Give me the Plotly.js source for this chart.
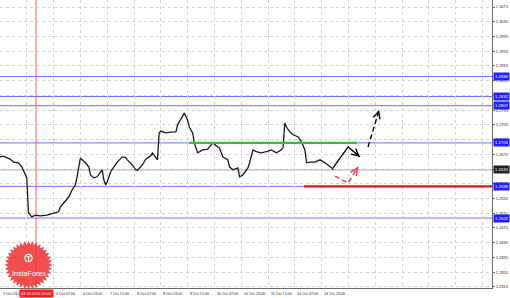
<!DOCTYPE html>
<html><head><meta charset="utf-8">
<script src="https://cdn.plot.ly/plotly-3.0.1.min.js"></script>
<style>html,body{margin:0;padding:0;background:#fff}#chart{width:510px;height:298px}</style>
</head><body><div id="chart"></div>
<script>
// ---- data (bar index = hourly bar counted from "2 Oct 23:00") ----
const bars   = [0,2,4,6,8,11,13,15,16,17,19,21,24,28,32,35,36,38,41,43,45,46,48,49,51,53,54,56,58,60,61,62,63,64,66,68,70,73,75,76,79,81,82,85,87,90,91,94,95,96,99,102,105,106,109,110,112,113,115,116,118,121,124,127,130,131,133,136,137,139,142,143,145,148,149,151,153,156,159,162,165,168,169,170,171,173,175,178,180,182,183,185,188,191,194,196,198,199];
const closes = [1.2668,1.2670,1.2666,1.2662,1.2654,1.2652,1.2641,1.2619,1.2611,1.2516,1.2505,1.2510,1.2508,1.2510,1.2516,1.2519,1.2532,1.2543,1.2559,1.2578,1.2592,1.2614,1.2665,1.2660,1.2652,1.2641,1.2619,1.2611,1.2614,1.2627,1.2633,1.2605,1.2592,1.2600,1.2627,1.2641,1.2654,1.2668,1.2666,1.2660,1.2646,1.2633,1.2631,1.2646,1.2662,1.2671,1.2679,1.2660,1.2733,1.2738,1.2733,1.2735,1.2736,1.2755,1.2782,1.2787,1.2768,1.2749,1.2733,1.2706,1.2679,1.2687,1.2689,1.2706,1.2695,1.2692,1.2668,1.2660,1.2641,1.2633,1.2638,1.2614,1.2619,1.2638,1.2652,1.2687,1.2682,1.2679,1.2682,1.2687,1.2679,1.2687,1.2695,1.2760,1.2749,1.2736,1.2728,1.2722,1.2709,1.2687,1.2652,1.2654,1.2654,1.2660,1.2652,1.2646,1.2638,1.2633];

// visible time labels (the one at bar 16 is hidden by the red cursor box in the reference)
const timeLabels = ['2 Oct 23:00','4 Oct 07:00','4 Oct 23:00','7 Oct 15:00','8 Oct 07:00','8 Oct 23:00','9 Oct 15:00','10 Oct 07:00','10 Oct 23:00','11 Oct 15:00','14 Oct 07:00','14 Oct 23:00'];
const labelBars  = [0,32,48,64,80,96,112,128,144,160,176,192];
const gridBars   = [0,16,32,48,64,80,96,112,128,144,160,176,192,208,224,240,256,272,288];

const priceTicks = [1.2315,1.2355,1.2395,1.2435,1.2475,1.2515,1.2555,1.2595,1.2635,1.2675,1.2715,1.2755,1.2795,1.2835,1.2875,1.2915,1.2955,1.2995,1.3035,1.3075];

const levelPrices = [1.2886,1.2832,1.2807,1.2706,1.2588,1.2502];
const bidPrice = 1.2633;

const greenX = [113,213];  const greenY = [1.2706,1.2706];
const redLineX = [181.5,293.7]; const redLineY = [1.2588,1.2588];
const cursorBar = 21.5; const cursorText = '03.10.2013 20:00';

const solidArrowX = [198.8,207.8,214.9]; const solidArrowY = [1.2638,1.2695,1.2668];
const dashArrowX  = [219.7,226.3];       const dashArrowY  = [1.2695,1.2795];
const redArrowX   = [200.0,207.8,213.7]; const redArrowY   = [1.2616,1.2597,1.2641];

// ---- layout geometry ----
const W=510,H=298,ML=0,MR=18,MT=0,MB=10;
const PW=W-ML-MR, PH=H-MT-MB;
const xr=[0,293.7], yr=[1.2312,1.3094];
const pxPerX = PW/(xr[1]-xr[0]), pxPerY = PH/(yr[1]-yr[0]);
const FONT='Liberation Sans, Arial, sans-serif';

const traces = [
  {x:bars,y:closes,type:'scatter',mode:'lines',line:{color:'#1a1a1a',width:1.3},hoverinfo:'skip'},
  {x:greenX,y:greenY,type:'scatter',mode:'lines',line:{color:'#3dba3d',width:2.2},hoverinfo:'skip'},
  {x:redLineX,y:redLineY,type:'scatter',mode:'lines',line:{color:'#e8141e',width:2.2},hoverinfo:'skip'},
  {x:solidArrowX,y:solidArrowY,type:'scatter',mode:'lines',line:{color:'#000',width:1.4},hoverinfo:'skip'},
  {x:dashArrowX,y:dashArrowY,type:'scatter',mode:'lines',line:{color:'#000',width:1.4,dash:'5px,3px'},hoverinfo:'skip'},
  {x:redArrowX,y:redArrowY,type:'scatter',mode:'lines',line:{color:'#f03c3c',width:1.4,dash:'5px,3px'},hoverinfo:'skip'}
];

const shapes = [];
levelPrices.forEach(p=>shapes.push({type:'line',xref:'paper',yref:'y',x0:0,x1:1,y0:p,y1:p,line:{color:'#6e6eff',width:1},layer:'below'}));
shapes.push({type:'line',xref:'paper',yref:'y',x0:0,x1:1,y0:bidPrice,y1:bidPrice,line:{color:'#bcbccc',width:1.6},layer:'below'});
shapes.push({type:'line',xref:'x',yref:'paper',x0:cursorBar,x1:cursorBar,y0:0,y1:1,line:{color:'#ff5a5a',width:1},layer:'below'});

// InstaForex badge (starburst)
let star='';
const nP=36;
for(let i=0;i<nP*2;i++){
  const r = i%2===0?24:20.5, a = Math.PI*i/nP;
  star += (i===0?'M':'L') + (r*Math.cos(a)).toFixed(2)+','+(r*Math.sin(a)).toFixed(2);
}
star+='Z';
const cx=28.5, cy=265;
shapes.push({type:'path',xref:'paper',yref:'paper',xsizemode:'pixel',ysizemode:'pixel',
  xanchor:cx/PW,yanchor:(PH-cy)/PH,path:star,fillcolor:'rgba(238,40,40,0.82)',line:{width:0},layer:'above'});
let circ='';
for(let i=0;i<=24;i++){const a=2*Math.PI*i/24; circ+=(i===0?'M':'L')+(3.6*Math.cos(a)).toFixed(2)+','+(3.6*Math.sin(a)).toFixed(2);}
shapes.push({type:'path',xref:'paper',yref:'paper',xsizemode:'pixel',ysizemode:'pixel',
  xanchor:cx/PW,yanchor:(PH-258)/PH,path:circ+'Z',fillcolor:'rgba(0,0,0,0)',line:{color:'#fff',width:1.2},layer:'above'});
shapes.push({type:'path',xref:'paper',yref:'paper',xsizemode:'pixel',ysizemode:'pixel',
  xanchor:cx/PW,yanchor:(PH-258)/PH,path:'M0,-3.5L0,2M-2,2L0,0L2,2',fillcolor:'rgba(0,0,0,0)',line:{color:'#fff',width:1},layer:'above'});

const ann = [];
timeLabels.forEach((t,i)=>ann.push({x:labelBars[i],xref:'x',y:0,yref:'paper',yanchor:'top',xanchor:'left',yshift:-1.5,xshift:0.5,
  text:t,showarrow:false,font:{size:3.7,color:'#222',family:FONT}}));
ann.push({x:cursorBar,xref:'x',y:0,yref:'paper',yanchor:'top',xanchor:'center',yshift:-1,text:cursorText,showarrow:false,
  bgcolor:'#ff1a1a',font:{size:3.9,color:'#fff',family:FONT},borderpad:1});
levelPrices.forEach(p=>ann.push({x:1,xref:'paper',y:p,yref:'y',xanchor:'left',xshift:1,text:p.toFixed(4),showarrow:false,
  bgcolor:'#1f1fff',font:{size:4.2,color:'#fff',family:FONT},borderpad:1}));
ann.push({x:1,xref:'paper',y:bidPrice,yref:'y',xanchor:'left',xshift:1,text:bidPrice.toFixed(4),showarrow:false,
  bgcolor:'#202020',font:{size:4.2,color:'#fff',family:FONT},borderpad:1});
ann.push({x:cx/PW,xref:'paper',y:(PH-273)/PH,yref:'paper',xanchor:'center',yanchor:'middle',text:'InstaForex',showarrow:false,
  font:{size:7.2,color:'#fff',family:FONT}});

function head(xs,ys,color){
  const n=xs.length, dx=(xs[n-1]-xs[n-2])*pxPerX, dy=-(ys[n-1]-ys[n-2])*pxPerY;
  const L=Math.hypot(dx,dy), k=6/L;
  ann.push({x:xs[n-1],y:ys[n-1],xref:'x',yref:'y',ax:-dx*k,ay:-dy*k,axref:'pixel',ayref:'pixel',text:'',showarrow:true,
    arrowhead:5,arrowsize:1,arrowwidth:1.4,arrowcolor:color,standoff:0});
}
head(solidArrowX,solidArrowY,'#000');
head(dashArrowX,dashArrowY,'#000');
head(redArrowX,redArrowY,'#f03c3c');

const layout = {
  width:W,height:H,margin:{l:ML,r:MR,t:MT,b:MB,pad:0},
  paper_bgcolor:'#fff',plot_bgcolor:'#fff',showlegend:false,hovermode:false,
  xaxis:{range:xr,tickvals:gridBars,showticklabels:false,showgrid:true,gridcolor:'#d2d2d2',griddash:'dot',gridwidth:1,
    zeroline:false,showline:true,linecolor:'#6b6b6b',linewidth:1,ticks:'',fixedrange:true},
  yaxis:{range:yr,side:'right',tickvals:priceTicks,ticktext:priceTicks.map(v=>v.toFixed(4)),showgrid:true,gridcolor:'#d2d2d2',
    griddash:'dot',gridwidth:1,zeroline:false,showline:true,linecolor:'#6b6b6b',linewidth:1,ticks:'outside',ticklen:2,
    tickcolor:'#6b6b6b',tickfont:{size:4,color:'#222',family:FONT},fixedrange:true},
  shapes:shapes,annotations:ann
};
Plotly.newPlot('chart',traces,layout,{displayModeBar:false,staticPlot:true});
</script></body></html>
